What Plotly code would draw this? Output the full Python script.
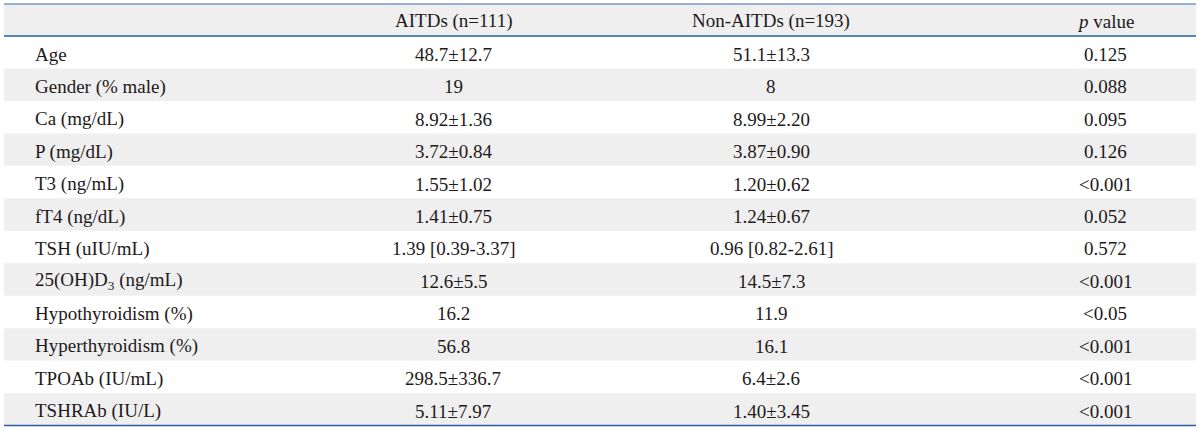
import plotly.graph_objects as go

# ---- data ----
headers = ["", "AITDs (n=111)", "Non-AITDs (n=193)", "<i>p</i> value"]
variables = ["Age", "Gender (% male)", "Ca (mg/dL)", "P (mg/dL)", "T3 (ng/mL)",
             "fT4 (ng/dL)", "TSH (uIU/mL)", "25(OH)D<sub>3</sub> (ng/mL)",
             "Hypothyroidism (%)", "Hyperthyroidism (%)", "TPOAb (IU/mL)", "TSHRAb (IU/L)"]
aitds = ["48.7±12.7", "19", "8.92±1.36", "3.72±0.84", "1.55±1.02", "1.41±0.75",
         "1.39 [0.39-3.37]", "12.6±5.5", "16.2", "56.8", "298.5±336.7", "5.11±7.97"]
non_aitds = ["51.1±13.3", "8", "8.99±2.20", "3.87±0.90", "1.20±0.62", "1.24±0.67",
             "0.96 [0.82-2.61]", "14.5±7.3", "11.9", "16.1", "6.4±2.6", "1.40±3.45"]
p_values = ["0.125", "0.088", "0.095", "0.126", "<0.001", "0.052", "0.572",
            "<0.001", "<0.05", "<0.001", "<0.001", "<0.001"]

# ---- layout geometry (pixels) ----
W, H = 1200, 431
left, right = 4, 1196
top, header_bottom, bottom = 4, 36, 425.5
n = len(variables)
row_h = (bottom - header_bottom) / n
label_x = 33
col_centers = [None, 453, 771, 1105]
gray = "#efefef"
txt = "#1e1a1b"
font = dict(family="Liberation Serif, Times New Roman, serif", size=19, color=txt)

fig = go.Figure()
shapes = []
annotations = []

# header background
shapes.append(dict(type="rect", xref="x", yref="y", x0=left, x1=right, y0=top, y1=header_bottom,
                   fillcolor=gray, line_width=0, layer="below"))
# row backgrounds (alternating)
for i in range(n):
    if i % 2 == 1:
        y0 = header_bottom + i * row_h
        shapes.append(dict(type="rect", xref="x", yref="y", x0=left, x1=right,
                           y0=y0, y1=y0 + row_h, fillcolor=gray, line_width=0, layer="below"))
# rules
shapes.append(dict(type="line", xref="x", yref="y", x0=left, x1=right, y0=top, y1=top,
                   line=dict(color="#3f6fab", width=1.2)))
shapes.append(dict(type="line", xref="x", yref="y", x0=left, x1=right, y0=header_bottom, y1=header_bottom,
                   line=dict(color="#5a83b6", width=2.2)))
shapes.append(dict(type="line", xref="x", yref="y", x0=left, x1=right, y0=bottom, y1=bottom,
                   line=dict(color="#2a5c9e", width=1.5)))

# header text
hy = (top + header_bottom) / 2
for j in range(1, 4):
    annotations.append(dict(x=col_centers[j], y=hy, xref="x", yref="y", text=headers[j],
                            showarrow=False, xanchor="center", yanchor="middle", font=font,
                            yshift=-1))

# body text
for i in range(n):
    yc = header_bottom + (i + 0.5) * row_h
    annotations.append(dict(x=label_x, y=yc, xref="x", yref="y", text=variables[i],
                            showarrow=False, xanchor="left", yanchor="middle", font=font,
                            yshift=-2))
    for j, col in zip(range(1, 4), [aitds, non_aitds, p_values]):
        annotations.append(dict(x=col_centers[j], y=yc, xref="x", yref="y", text=col[i],
                                showarrow=False, xanchor="center", yanchor="middle", font=font,
                                yshift=-2))

fig.update_layout(
    width=W, height=H,
    margin=dict(l=0, r=0, t=0, b=0),
    paper_bgcolor="white", plot_bgcolor="white",
    xaxis=dict(range=[0, W], visible=False, fixedrange=True),
    yaxis=dict(range=[H, 0], visible=False, fixedrange=True),
    shapes=shapes, annotations=annotations, showlegend=False,
)
fig.write_html("out.html", config={"displayModeBar": False},
               post_script="document.body.style.margin='0';document.body.style.overflow='hidden';")
